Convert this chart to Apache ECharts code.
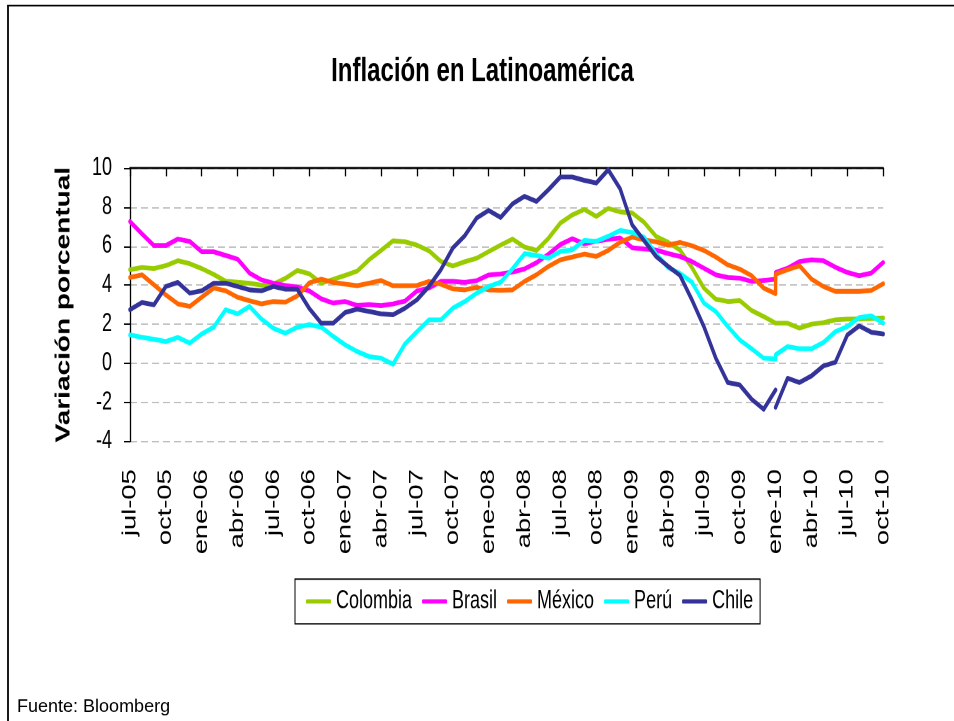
<!DOCTYPE html>
<html>
<head>
<meta charset="utf-8">
<script src="https://cdn.jsdelivr.net/npm/echarts@6/dist/echarts.min.js"></script>
<style>
  html, body { margin: 0; padding: 0; background: #fff; }
  body { width: 954px; height: 721px; }
  /* the original picture is stretched vertically, so the chart is drawn flat and scaled */
  #chart { width: 954px; height: 515px; transform: scaleY(1.4); transform-origin: 0 0; }
</style>
</head>
<body>
<div id="chart"></div>
<script>
// tick labels every 3 months, jul-05 .. oct-10
const tickLabels = ['jul-05', 'oct-05', 'ene-06', 'abr-06', 'jul-06', 'oct-06', 'ene-07', 'abr-07',
  'jul-07', 'oct-07', 'ene-08', 'abr-08', 'jul-08', 'oct-08', 'ene-09', 'abr-09',
  'jul-09', 'oct-09', 'ene-10', 'abr-10', 'jul-10', 'oct-10'];

// monthly values, jul-05 .. oct-10; ene-10 appears twice (old and new base)
const colombia = [4.8, 4.9, 4.85, 5.0, 5.25, 5.1, 4.85, 4.55, 4.2, 4.15, 4.1, 4.0, 4.05, 4.35, 4.75, 4.58,
  4.1, 4.3, 4.5, 4.72, 5.3, 5.78, 6.27, 6.22, 6.05, 5.76, 5.22, 4.98, 5.2, 5.38, 5.72, 6.05,
  6.36, 5.95, 5.78, 6.4, 7.18, 7.6, 7.88, 7.52, 7.93, 7.75, 7.7, 7.22, 6.5, 6.2, 5.8, 4.9,
  3.85, 3.28, 3.16, 3.21, 2.7, 2.39, 2.05, 2.05, 2.05, 1.8, 2.0, 2.08, 2.22, 2.26, 2.27, 2.29, 2.32];
const brasil = [7.26, 6.63, 6.03, 6.03, 6.36, 6.24, 5.71, 5.71, 5.52, 5.33, 4.62, 4.27, 4.1, 3.98, 3.9, 3.7,
  3.3, 3.08, 3.16, 2.96, 3.0, 2.95, 3.04, 3.18, 3.7, 3.85, 4.19, 4.19, 4.14, 4.23, 4.52, 4.57,
  4.67, 4.83, 5.15, 5.58, 6.08, 6.38, 6.12, 6.25, 6.35, 6.42, 5.92, 5.85, 5.8, 5.62, 5.47, 5.21,
  4.87, 4.53, 4.39, 4.36, 4.19, 4.24, 4.3, 4.65, 4.87, 5.21, 5.3, 5.25, 4.92, 4.65, 4.48, 4.62, 5.16];
const mexico = [4.39, 4.53, 4.02, 3.5, 3.04, 2.91, 3.38, 3.85, 3.71, 3.38, 3.2, 3.04, 3.16, 3.13, 3.45, 4.12,
  4.3, 4.14, 4.05, 3.97, 4.1, 4.24, 3.97, 3.97, 3.98, 4.19, 4.05, 3.81, 3.76, 3.88, 3.76, 3.74,
  3.76, 4.19, 4.53, 4.96, 5.3, 5.44, 5.59, 5.47, 5.78, 6.2, 6.46, 6.32, 6.22, 6.05, 6.19, 6.02,
  5.78, 5.44, 5.04, 4.82, 4.48, 3.85, 3.56, 4.56, 4.79, 4.99, 4.31, 3.93, 3.68, 3.68, 3.68, 3.73, 4.07];
const peru = [1.45, 1.33, 1.23, 1.11, 1.32, 1.03, 1.5, 1.85, 2.74, 2.53, 2.91, 2.26, 1.79, 1.54, 1.85, 1.98,
  1.85, 1.37, 0.94, 0.6, 0.34, 0.26, -0.05, 0.99, 1.62, 2.22, 2.22, 2.82, 3.16, 3.59, 3.93, 4.15,
  4.84, 5.61, 5.52, 5.38, 5.73, 5.81, 6.29, 6.24, 6.5, 6.8, 6.7, 6.45, 5.6, 4.9, 4.6, 4.15,
  3.08, 2.65, 1.88, 1.2, 0.74, 0.26, 0.21, 0.43, 0.85, 0.74, 0.74, 1.06, 1.62, 1.88, 2.34, 2.43, 2.05];
const chile = [2.74, 3.11, 2.99, 3.93, 4.14, 3.59, 3.71, 4.1, 4.1, 3.93, 3.76, 3.71, 3.93, 3.79, 3.79, 2.8,
  2.05, 2.05, 2.6, 2.77, 2.65, 2.53, 2.48, 2.82, 3.25, 3.93, 4.79, 5.9, 6.53, 7.44, 7.83, 7.47,
  8.17, 8.55, 8.29, 8.89, 9.54, 9.54, 9.37, 9.23, 9.91, 8.93, 7.09, 6.28, 5.47, 4.97, 4.5, 3.25,
  1.88, 0.26, -0.99, -1.11, -1.85, -2.36, -1.37, -2.26, -0.77, -0.99, -0.65, -0.14, 0.05, 1.45, 1.91, 1.59, 1.5];

const seriesNames = ['Colombia', 'Brasil', 'México', 'Perú', 'Chile'];
const seriesColors = ['#99CC00', '#FF00FF', '#FF6600', '#00FFFF', '#333399'];

const S = 1.4; // vertical stretch of the page

// value index -> month index (the second ene-10 value sits on the same month)
function pairs(values) {
  return values.map(function (v, k) { return [k <= 54 ? k : k - 1, v]; });
}

const chileData = pairs(chile);
chileData.splice(55, 0, [54, '-']); // Chile line is broken at the base change

const chart = echarts.init(document.getElementById('chart'), null, { devicePixelRatio: 2 });

const font = 'Liberation Sans, Arial, sans-serif';

chart.setOption({
  animation: false,
  textStyle: { fontFamily: font, color: '#000' },
  title: {
    text: 'Inflación en Latinoamérica',
    left: 482.5,
    top: 39.5,
    padding: 0,
    textAlign: 'center',
    textStyle: { fontSize: 24, fontWeight: 'bold', color: '#000', fontFamily: font }
  },
  legend: {
    data: seriesNames,
    left: 295,
    top: 413.6,
    padding: [7, 7, 7, 11],
    borderColor: '#000',
    borderWidth: 1,
    itemGap: 10,
    itemWidth: 25,
    itemHeight: 3,
    icon: 'roundRect',
    textStyle: { fontSize: 18, color: '#000', fontFamily: font }
  },
  grid: {
    left: 130,
    right: 70.8,
    top: 120,
    bottom: 199.8
  },
  xAxis: [
    {
      type: 'value',
      min: 0,
      max: 63,
      interval: 3,
      position: 'bottom',
      axisLine: { show: false },
      axisTick: { show: false },
      splitLine: { show: false },
      axisLabel: {
        rotate: 90,
        margin: 20,
        fontSize: 19.5,
        color: '#000',
        fontFamily: font,
        formatter: function (v) { return tickLabels[Math.round(v / 3)]; }
      }
    },
    {
      // the category axis line crossing at 0
      type: 'value',
      min: 0,
      max: 63,
      interval: 3,
      position: 'top',
      axisLine: { onZero: true, lineStyle: { color: '#000', width: 1.5 } },
      axisTick: { show: true, inside: true, length: 6, lineStyle: { color: '#000', width: 1.3 } },
      axisLabel: { show: false },
      splitLine: { show: false }
    }
  ],
  yAxis: {
    type: 'value',
    min: -4,
    max: 10,
    interval: 2,
    name: 'Variación porcentual',
    nameLocation: 'middle',
    nameGap: 56,
    nameTextStyle: { fontSize: 20, fontWeight: 'bold', color: '#000', fontFamily: font },
    axisLine: { show: true, lineStyle: { color: '#000', width: 1.3 } },
    axisTick: { show: true, length: 6, lineStyle: { color: '#000' } },
    axisLabel: { fontSize: 18, color: '#000', margin: 18, fontFamily: font },
    splitLine: { lineStyle: { color: '#bfbfbf', type: [7, 4], width: 1 } }
  },
  graphic: [
    { type: 'line', shape: { x1: 8, y1: 4, x2: 8, y2: 515 }, style: { stroke: '#000', lineWidth: 1.8 } },
    { type: 'line', shape: { x1: 7.1, y1: 4, x2: 954, y2: 4 }, style: { stroke: '#000', lineWidth: 1.3 } },
    {
      type: 'text',
      x: 17,
      y: 716 / S,
      scaleY: 1 / S,
      style: { text: 'Fuente: Bloomberg', fontSize: 18, fontFamily: font, fill: '#000', verticalAlign: 'bottom' }
    }
  ],
  series: [colombia, brasil, mexico, peru, chileData].map(function (d, i) {
    return {
      name: seriesNames[i],
      type: 'line',
      data: i === 4 ? d : pairs(d),
      symbol: 'none',
      connectNulls: false,
      color: seriesColors[i],
      lineStyle: { width: 3.4, color: seriesColors[i], join: 'round', cap: 'round' },
      emphasis: { disabled: true }
    };
  })
});
</script>
</body>
</html>
